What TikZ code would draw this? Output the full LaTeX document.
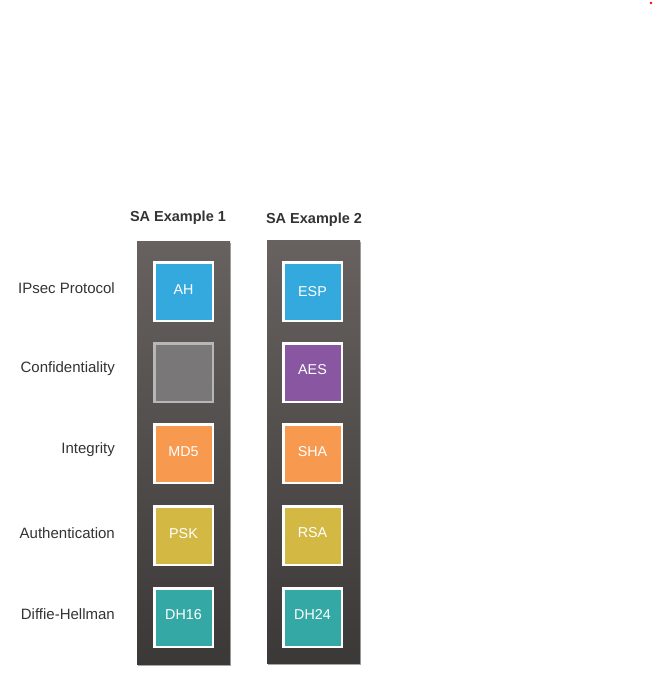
\documentclass[tikz,border=0pt]{standalone}
\usepackage{fontspec}
\setmainfont{Liberation Sans}
\usetikzlibrary{shadows}
\definecolor{panelTop}{HTML}{67625F}
\definecolor{panelBot}{HTML}{3B3838}
\definecolor{cBlue}{HTML}{33A9DE}
\definecolor{cGrey}{HTML}{797777}
\definecolor{cGreyEdge}{HTML}{B8B6B6}
\definecolor{cPurple}{HTML}{8957A1}
\definecolor{cOrange}{HTML}{F79A50}
\definecolor{cGold}{HTML}{D3B844}
\definecolor{cTeal}{HTML}{33A8A4}
\definecolor{labelText}{HTML}{333333}
\tikzset{
  panel/.style={rectangle, inner sep=0pt, minimum width=93pt, minimum height=423pt,
    top color=panelTop, bottom color=panelBot, draw=none,
    drop shadow={shadow xshift=1pt, shadow yshift=-1.5pt, fill=black, opacity=0.35}},
  sabox/.style={rectangle, inner sep=0pt, minimum size=58.5pt, draw=white, line width=2.5pt,
    text=white, font=\fontsize{14.3}{16}\selectfont,
    drop shadow={shadow xshift=1pt, shadow yshift=-1.5pt, fill=black, opacity=0.4}},
  rowlabel/.style={anchor=base east, inner sep=0pt, text=labelText, font=\fontsize{15}{17}\selectfont},
  coltitle/.style={inner sep=0pt, text=labelText, font=\bfseries\fontsize{14.5}{17}\selectfont},
}
\begin{document}
\begin{tikzpicture}[x=1pt,y=-1pt]
\useasboundingbox (0,0) rectangle (654,673);
\fill[red] (651,3) circle (1.3);
% panels
\node[panel] (p1) at (183.5,452.5) {};
\node[panel] (p2) at (313.5,452) {};
% titles
\node[coltitle] (t1) at (178,218) {SA Example 1};
\node[coltitle] (t2) at (314,220) {SA Example 2};
% row labels
\node[rowlabel] (l1) at (115,293.5) {IPsec Protocol};
\node[rowlabel] (l2) at (115,372.8) {Confidentiality};
\node[rowlabel] (l3) at (115,453.5) {Integrity};
\node[rowlabel] (l4) at (115,538.5) {Authentication};
\node[rowlabel] (l5) at (115,619) {Diffie-Hellman};
% column 1
\node[sabox, fill=cBlue] (a1) at (183.5,291.5) {\raisebox{4pt}{AH}};
\node[sabox, fill=cGrey, draw=cGreyEdge] (a2) at (183.5,372.5) {};
\node[sabox, fill=cOrange] (a3) at (183.5,453.5) {\raisebox{3.5pt}{MD5}};
\node[sabox, fill=cGold] (a4) at (183.5,535.5) {\raisebox{4pt}{PSK}};
\node[sabox, fill=cTeal] (a5) at (183.5,617.5) {\raisebox{6pt}{DH16}};
% column 2
\node[sabox, fill=cBlue] (b1) at (312.5,291.5) {ESP};
\node[sabox, fill=cPurple] (b2) at (312.5,372.5) {\raisebox{6pt}{AES}};
\node[sabox, fill=cOrange] (b3) at (312.5,453.5) {\raisebox{4pt}{SHA}};
\node[sabox, fill=cGold] (b4) at (312.5,535.5) {\raisebox{6pt}{RSA}};
\node[sabox, fill=cTeal] (b5) at (312.5,617.5) {\raisebox{5.5pt}{DH24}};
\end{tikzpicture}
\end{document}
